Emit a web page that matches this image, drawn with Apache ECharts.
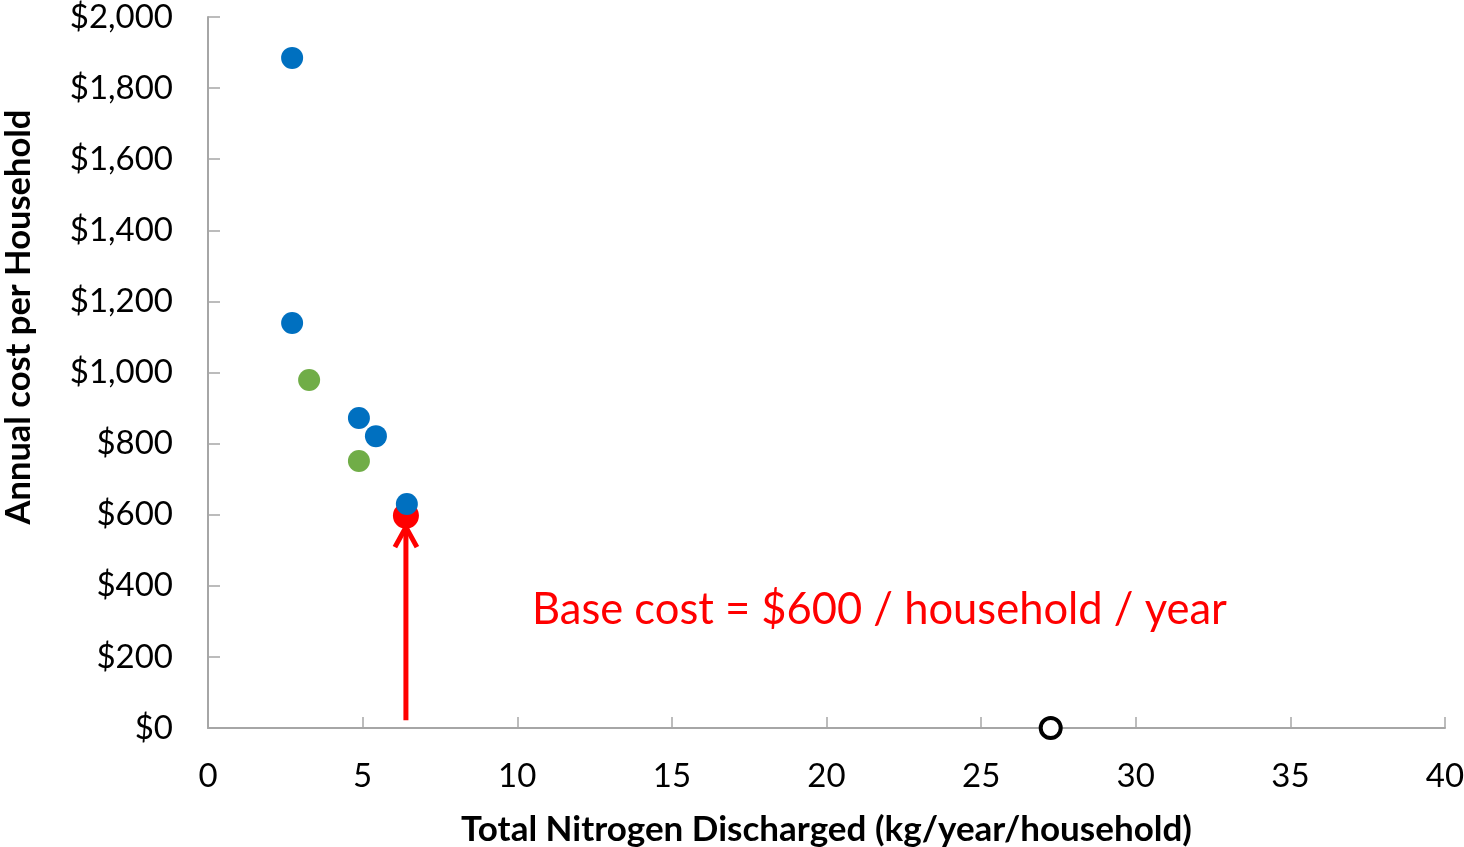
<!DOCTYPE html>
<html><head><meta charset="utf-8">
<script src="https://cdn.jsdelivr.net/npm/echarts@6/dist/echarts.min.js"></script>
<style>html,body{margin:0;padding:0;background:#fff}#c{width:1464px;height:847px}</style>
</head><body><div id="c"></div>
<script>
var xTicks = [0,5,10,15,20,25,30,35,40];
var blueData = [[2.72,1885],[2.72,1139],[4.88,872],[5.43,821],[6.43,630]];
var greenData = [[3.27,979],[4.88,751]];
var redData = [[6.40,597]];
var hollowData = [[27.25,0]];
var arrowData = [[6.4,22,565]];
var annotation = 'Base cost = $600 / household / year';
var FONT = 'Lato, "Open Sans", sans-serif';
var chart = echarts.init(document.getElementById('c'));
chart.setOption({
  animation:false,
  grid:{left:208,right:19,top:17,bottom:119,containLabel:false,outerBoundsMode:'none'},
  xAxis:{type:'value',min:0,max:40,interval:5,
    name:'Total Nitrogen Discharged (kg/year/household)',nameLocation:'middle',nameGap:84,
    nameTextStyle:{fontFamily:FONT,fontWeight:'bold',fontSize:35,color:'#000'},
    axisLine:{lineStyle:{color:'#a6a6a6',width:2}},
    axisTick:{inside:true,length:11,lineStyle:{color:'#a6a6a6',width:1.5}},
    axisLabel:{margin:32,fontFamily:FONT,fontSize:33,color:'#000'},
    splitLine:{show:false}},
  yAxis:{type:'value',min:0,max:2000,interval:200,
    axisLine:{show:true,lineStyle:{color:'#a6a6a6',width:2}},
    axisTick:{show:true,inside:true,length:12,lineStyle:{color:'#a6a6a6',width:1.5}},
    axisLabel:{margin:35,fontFamily:FONT,fontSize:33,color:'#000',
      formatter:function(v){return '$'+v.toLocaleString('en-US');}},
    splitLine:{show:false}},
  graphic:[
    {type:'text',left:532,top:588,style:{text:annotation,fill:'#ff0000',fontFamily:FONT,fontSize:43.5}},
    {type:'text',x:19,y:317,rotation:Math.PI/2,style:{text:'Annual cost per Household',fill:'#000',fontFamily:FONT,fontWeight:'bold',fontSize:34.5,align:'center',verticalAlign:'middle'}}
  ],
  series:[
    {type:'custom',data:arrowData,renderItem:function(params,api){
      var p0=api.coord([api.value(0),api.value(1)]);
      var p1=api.coord([api.value(0),api.value(2)]);
      return {type:'group',children:[
        {type:'line',shape:{x1:p0[0],y1:p0[1],x2:p1[0],y2:p1[1]-4},style:{stroke:'#ff0000',lineWidth:5}},
        {type:'polyline',shape:{points:[[p1[0]-11,p1[1]+20],[p1[0],p1[1]],[p1[0]+11,p1[1]+20]]},style:{stroke:'#ff0000',lineWidth:5,fill:null,lineJoin:'miter'}}
      ]};
    },z:1},
    {type:'scatter',data:redData,symbolSize:26,itemStyle:{color:'#ff0000',opacity:1},z:2},
    {type:'scatter',data:greenData,symbolSize:22,itemStyle:{color:'#70ad47',opacity:1},z:3},
    {type:'scatter',data:blueData,symbolSize:22,itemStyle:{color:'#0070c0',opacity:1},z:4},
    {type:'scatter',data:hollowData,symbolSize:20,itemStyle:{color:'#fff',borderColor:'#000',borderWidth:4,opacity:1},z:5}
  ]
});
</script></body></html>
